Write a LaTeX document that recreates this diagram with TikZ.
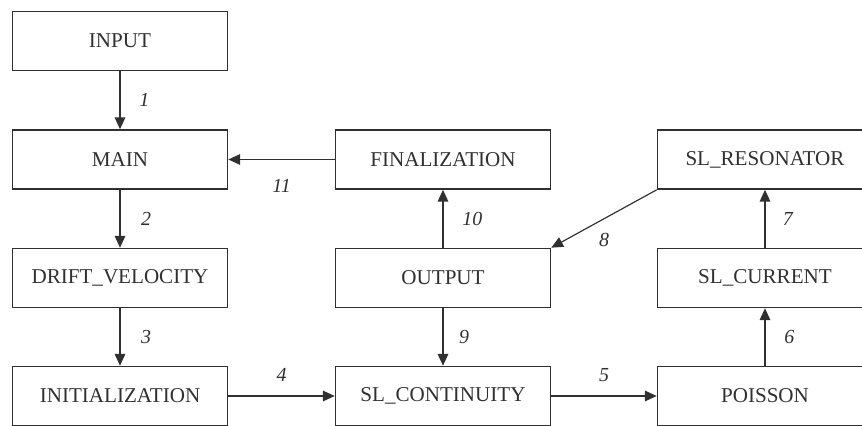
\documentclass[tikz,border=0pt]{standalone}
\usepackage{fontspec}
\setmainfont{Liberation Serif}
\usetikzlibrary{arrows.meta}
\definecolor{grigio}{HTML}{303030}

\begin{document}
\begin{tikzpicture}[
        blocco/.style={draw=grigio, line width=1.4pt, minimum width=6.45cm, minimum height=1.77cm,
            text=grigio, font=\fontsize{18}{21}\selectfont},
        freccia/.style={-{Triangle[length=10pt,width=9pt]}, draw=grigio, line width=1pt},
        num/.style={font=\fontsize{17}{20}\selectfont\itshape, text=grigio}
    ]
        \useasboundingbox (0,0) rectangle (25.86,12.75);
        \clip (0,0) rectangle (25.86,12.75);
        % Blocchi
        \node[blocco] (input) at (3.6,11.52) {INPUT};
        \node[blocco] (main) at (3.6,7.965) {MAIN};
        \node[blocco] (drift) at (3.6,4.41) {DRIFT\_VELOCITY};
        \node[blocco] (init) at (3.6,0.87) {INITIALIZATION};
        \node[blocco] (final) at (13.29,7.965) {FINALIZATION};
        \node[blocco] (output) at (13.29,4.41) {OUTPUT};
        \node[blocco] (cont) at (13.29,0.87) {SL\_CONTINUITY};
        \node[blocco] (reson) at (22.95,7.965) {SL\_RESONATOR};
        \node[blocco] (current) at (22.95,4.41) {SL\_CURRENT};
        \node[blocco] (poisson) at (22.95,0.87) {POISSON};
        % Frecce
        \draw[freccia] (input) -- (main) node[midway,right=0.45cm,num]{1};
        \draw[freccia] (main) -- (drift) node[midway,right=0.5cm,num]{2};
        \draw[freccia] (drift) -- (init) node[midway,right=0.5cm,num]{3};
        \draw[freccia] (init) -- (cont) node[midway,above=0.3cm,num]{4};
        \draw[freccia] (cont) -- (poisson) node[midway,above=0.3cm,num]{5};
        \draw[freccia] (poisson) -- (current) node[midway,right=0.45cm,num]{6};
        \draw[freccia] (current) -- (reson) node[midway,right=0.4cm,num]{7};
        \draw[freccia] (reson.south west) -- (output.north east) node[midway,below=0.3cm,num]{8};
        \draw[freccia] (output) -- (cont) node[midway,right=0.35cm,num]{9};
        \draw[freccia] (output) -- (final) node[midway,right=0.45cm,num]{10};
        \draw[freccia] (final) -- (main) node[midway,below=0.45cm,num]{11};
    \end{tikzpicture}
\end{document}
